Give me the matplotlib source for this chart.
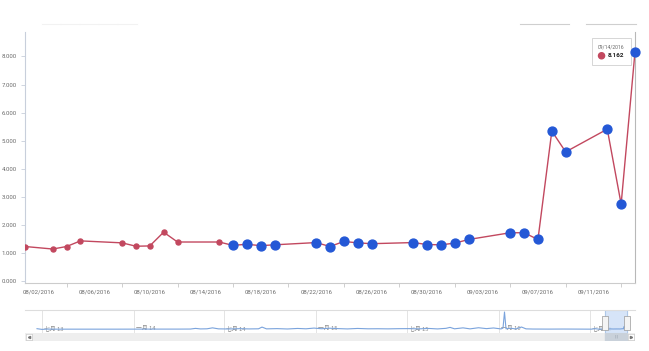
import numpy as np
import matplotlib
matplotlib.use("Agg")
import matplotlib.pyplot as plt
import matplotlib.dates as mdates
from matplotlib.offsetbox import TextArea, DrawingArea, HPacker, VPacker, AnnotationBbox
from matplotlib.patches import Circle
import pandas as pd

# main series (daily values shown in the zoomed range)
dates = ['2016-08-01', '2016-08-03', '2016-08-04', '2016-08-05', '2016-08-08', '2016-08-09',
         '2016-08-10', '2016-08-11', '2016-08-12', '2016-08-15', '2016-08-16', '2016-08-17',
         '2016-08-18', '2016-08-19', '2016-08-22', '2016-08-23', '2016-08-24', '2016-08-25',
         '2016-08-26', '2016-08-29', '2016-08-30', '2016-08-31', '2016-09-01', '2016-09-02',
         '2016-09-05', '2016-09-06', '2016-09-07', '2016-09-08', '2016-09-09', '2016-09-12',
         '2016-09-13', '2016-09-14']
values = [1.23, 1.14, 1.23, 1.43, 1.36, 1.24,
          1.25, 1.74, 1.39, 1.39, 1.27, 1.31,
          1.26, 1.29, 1.37, 1.23, 1.41, 1.36,
          1.33, 1.37, 1.30, 1.29, 1.35, 1.48,
          1.72, 1.72, 1.48, 5.34, 4.60, 5.41,
          2.74, 8.162]
highlight_from = '2016-08-16'

x_labels = ['2016-08-02', '2016-08-06', '2016-08-10', '2016-08-14', '2016-08-18', '2016-08-22',
            '2016-08-26', '2016-08-30', '2016-09-03', '2016-09-07', '2016-09-11']
x_marks = ['2016-08-04', '2016-08-08', '2016-08-12', '2016-08-16', '2016-08-20', '2016-08-24',
           '2016-08-28', '2016-09-01', '2016-09-05', '2016-09-09', '2016-09-13']
y_ticks = [0, 1, 2, 3, 4, 5, 6, 7, 8]

# long history for the range navigator (before the zoomed range)
nav_dates = ['2013-06-22', '2013-07-02', '2013-07-12', '2013-08-01', '2013-10-01', '2013-12-01',
             '2014-02-01', '2014-04-01', '2014-04-25', '2014-05-05', '2014-05-15', '2014-05-28',
             '2014-06-08', '2014-06-20', '2014-07-10', '2014-08-01', '2014-08-20', '2014-09-08',
             '2014-09-15', '2014-09-24', '2014-10-15', '2014-11-05', '2014-11-25', '2014-12-12',
             '2014-12-28', '2015-01-12', '2015-01-28', '2015-02-15', '2015-03-05', '2015-03-25',
             '2015-04-15', '2015-05-05', '2015-05-25', '2015-06-15', '2015-07-05', '2015-07-25',
             '2015-08-15', '2015-09-01', '2015-09-18', '2015-09-26', '2015-10-05', '2015-10-22',
             '2015-11-05', '2015-11-22', '2015-12-08', '2015-12-22', '2016-01-06', '2016-01-10',
             '2016-01-13', '2016-01-16', '2016-01-24', '2016-02-05', '2016-02-16', '2016-02-25',
             '2016-03-10', '2016-04-10', '2016-05-10', '2016-06-10', '2016-07-05', '2016-07-12',
             '2016-07-20', '2016-07-28']
nav_values = [1.8, 0.6, 1.1, 1.0, 1.0, 1.0,
              1.1, 1.1, 1.2, 2.3, 1.4, 1.6,
              3.2, 1.5, 1.3, 1.8, 1.4, 1.6,
              4.5, 1.5, 1.9, 1.3, 2.2, 1.6,
              2.8, 1.7, 2.6, 1.9, 1.4, 2.2,
              1.6, 1.7, 1.5, 1.8, 1.9, 1.5,
              2.2, 1.4, 2.4, 4.0, 1.6, 3.2,
              1.5, 3.4, 1.9, 3.0, 1.4, 2.8,
              30.0, 1.6, 2.6, 1.4, 4.6, 1.5,
              1.2, 1.1, 1.2, 1.1, 1.0, 1.8,
              1.0, 1.4]
nav_grid = ['2013-07-01', '2014-01-01', '2014-07-01', '2015-01-01', '2015-07-01',
            '2016-01-01', '2016-07-01']
nav_grid_labels = ['七月 13', '一月 14', '七月 14', '一月 15', '七月 15', '一月 16', '七月 16']

dt = pd.to_datetime(dates)
vals = np.array(values)
blue = dt >= pd.Timestamp(highlight_from)

RED = '#c2485f'
BLUE = '#2458d6'
TICK_C = '#6a6a6a'

fig = plt.figure(figsize=(6.49, 3.51), dpi=100)
W, H = 649, 351

def fax(x0, y0, x1, y1):
    return fig.add_axes([x0 / W, 1 - y1 / H, (x1 - x0) / W, (y1 - y0) / H])

# ---------------- main chart
ax = fax(25, 32, 635, 283)
ax.plot(dt, vals, color=RED, lw=1.0, zorder=2)
ax.plot(dt[~blue], vals[~blue], 'o', color=RED, ms=3.6, zorder=3)
ax.plot(dt[blue], vals[blue], 'o', color=BLUE, ms=6.4, zorder=4, clip_on=False)

ax.set_xlim(pd.Timestamp('2016-08-01'), pd.Timestamp('2016-09-14'))
ax.set_ylim(-0.07, 8.87)
ax.set_yticks(y_ticks)
ax.set_yticklabels(['%.3f' % v for v in y_ticks])
ax.set_xticks(pd.to_datetime(x_labels))
ax.set_xticklabels([pd.Timestamp(d).strftime('%m/%d/%Y') for d in x_labels])
ax.set_xticks(pd.to_datetime(x_marks), minor=True)
ax.tick_params(axis='x', which='major', length=0, pad=5, labelsize=4.3, labelcolor=TICK_C)
ax.tick_params(axis='x', which='minor', length=3, width=0.6, color='#c8c8c8')
ax.tick_params(axis='y', length=3, width=0.6, color='#c8cfdb', pad=3, labelsize=4.3,
               labelcolor=TICK_C)
for lab in ax.get_xticklabels() + ax.get_yticklabels():
    lab.set_fontfamily('Roboto')
ax.spines['top'].set_visible(False)
ax.spines['left'].set_color('#c8cfdb')
ax.spines['right'].set_color('#b8b8b8')
ax.spines['bottom'].set_color('#cccccc')
for s in ax.spines.values():
    s.set_linewidth(0.8)

# tooltip on last point
dot = DrawingArea(5, 5, 0, 0)
dot.add_artist(Circle((2.5, 2.5), 2.2, color=RED))
t_date = TextArea(dt[-1].strftime('%m/%d/%Y'),
                  textprops=dict(fontsize=3.6, color='#666666', family='Roboto'))
t_val = TextArea('%.3f' % vals[-1],
                 textprops=dict(fontsize=4.6, color='#222222', weight='bold', family='Roboto'))
box = VPacker(children=[t_date, HPacker(children=[dot, t_val], align='center', pad=0, sep=2)],
              align='left', pad=0, sep=2)
ab = AnnotationBbox(box, (dt[-1], vals[-1]), xybox=(-17, 0), boxcoords='offset points',
                    box_alignment=(0.5, 0.5), frameon=True, pad=0.45,
                    bboxprops=dict(edgecolor='#d0d0d0', facecolor='white', lw=0.6))
ax.add_artist(ab)

# faded controls at the top
for x0, x1 in [(42, 60), (61, 79), (80, 98), (99, 117), (118, 137)]:
    fig.add_artist(plt.Line2D([x0 / W, x1 / W], [1 - 24 / H] * 2, color='#f2f2f2', lw=0.8))
for x0, x1 in [(520, 569), (586, 636)]:
    fig.add_artist(plt.Line2D([x0 / W, x1 / W], [1 - 24 / H] * 2, color='#cfcfcf', lw=0.8))

# ---------------- range navigator
nav_dt = pd.to_datetime(nav_dates + dates)
nav_v = np.array(nav_values + values)
nx = fax(25, 310, 635, 333)
nav_xlim = (pd.Timestamp('2013-05-29'), pd.Timestamp('2016-09-30'))
for g in nav_grid:
    nx.axvline(pd.Timestamp(g), color='#e4e4e4', lw=0.7, zorder=0)
nx.plot(nav_dt, nav_v, color='#7aa3dc', lw=0.8, zorder=2)
for g, lab in zip(nav_grid, nav_grid_labels):
    nx.annotate(lab, (pd.Timestamp(g), 0.2), xycoords=('data', 'axes fraction'),
                xytext=(1.5, 0), textcoords='offset points', fontsize=4.2, color='#8a8a8a',
                family=['Noto Sans CJK SC', 'DejaVu Sans'], va='center', zorder=1)
sel0, sel1 = pd.Timestamp(dates[0]), pd.Timestamp(dates[-1])
nx.axvspan(sel0, sel1, color='#cfe0f7', alpha=0.85, zorder=1)
nx.axvline(sel0, color='#a9c3e6', lw=0.6, zorder=1)
nx.axvline(sel1, color='#a9c3e6', lw=0.6, zorder=1)
handle = [(-1, -2.5), (1, -2.5), (1, 2.5), (-1, 2.5), (-1, -2.5)]
nx.plot([sel0, sel1], [12, 12], linestyle='none', marker=handle, ms=10, mfc='#f4f4f4',
        mec='#9a9a9a', mew=0.5, zorder=5, clip_on=False)
nx.set_xlim(*nav_xlim)
nx.set_ylim(-5.5, 33.4)
nx.set_xticks([])
nx.set_yticks([])
for k in ['left', 'right', 'bottom']:
    nx.spines[k].set_visible(False)
nx.spines['top'].set_color('#dddddd')
nx.spines['top'].set_linewidth(0.8)

# scrollbar
sb = fax(25, 333, 635, 341)
sb.set_facecolor('#eeeeee')
sb.set_xlim(*nav_xlim)
sb.set_ylim(0, 1)
sb.axvspan(sel0, sel1, color='#c9d1da', zorder=1)
sb.text(pd.Timestamp(dates[len(dates) // 2]), 0.5, '|||', fontsize=2.5, color='#8a96a4',
        ha='center', va='center')
sb.set_xticks([])
sb.set_yticks([])
for s in sb.spines.values():
    s.set_visible(False)
for x0, mk in [(26, '<'), (628, '>')]:
    bt = fax(x0, 334, x0 + 6, 340)
    bt.set_facecolor('white')
    bt.plot([0.5], [0.5], marker=mk, ms=1.6, color='#777777')
    bt.set_xlim(0, 1)
    bt.set_ylim(0, 1)
    bt.set_xticks([])
    bt.set_yticks([])
    for s in bt.spines.values():
        s.set_color('#cccccc')
        s.set_linewidth(0.5)

fig.savefig('out.png', dpi=100)
